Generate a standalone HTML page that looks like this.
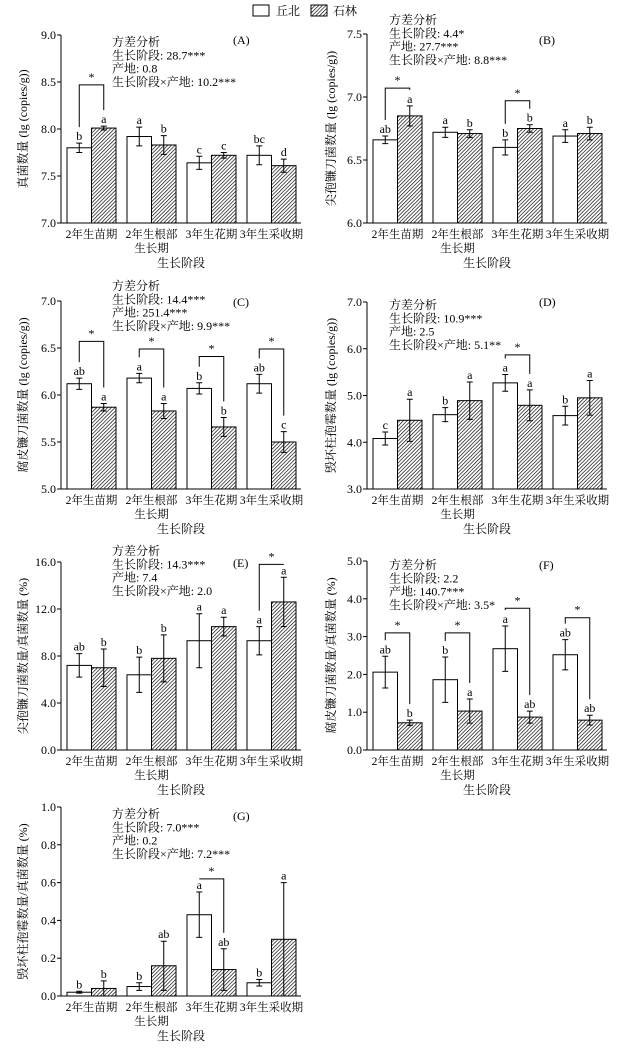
<!DOCTYPE html>
<html><head><meta charset="utf-8"><style>
html,body{margin:0;padding:0;background:#fff;}
svg{display:block;font-family:"Liberation Serif","Noto Serif CJK SC","Noto Sans CJK SC",serif;}
</style></head><body>
<svg id="fig" width="644" height="1050" xmlns="http://www.w3.org/2000/svg">
<defs>
<pattern id="hatch" patternUnits="userSpaceOnUse" width="2.6" height="2.6" patternTransform="rotate(45)">
<rect width="2.6" height="2.6" fill="#fff"/><line x1="0" y1="0" x2="0" y2="2.6" stroke="#111" stroke-width="1.4"/>
</pattern>
</defs>
<g>
<rect x="253" y="5" width="16" height="11" fill="#fff" stroke="#000"/>
<text x="276" y="15" font-size="12">丘北</text>
<rect x="311" y="5" width="16" height="11" fill="url(#hatch)" stroke="#000"/>
<text x="333" y="15" font-size="12">石林</text>
</g>
</svg>
<script>
const categories = ["2年生苗期","2年生根部|生长期","3年生花期","3年生采收期"];
// Panel A
const aWhite=[7.80,7.92,7.64,7.72], aWhiteErr=[0.05,0.10,0.07,0.10];
const aHatch=[8.01,7.83,7.72,7.61], aHatchErr=[0.02,0.10,0.03,0.07];
const aWL=["b","a","c","bc"], aHL=["a","b","c","d"];
const aTicks=["7.0","7.5","8.0","8.5","9.0"];
const aSig=[8.47,null,null,null];
const aAnova=["方差分析","生长阶段: 28.7***","产地: 0.8","生长阶段×产地: 10.2***"];
// Panel B
const bWhite=[6.66,6.72,6.60,6.69], bWhiteErr=[0.03,0.04,0.06,0.05];
const bHatch=[6.85,6.71,6.75,6.71], bHatchErr=[0.08,0.03,0.03,0.05];
const bWL=["ab","a","b","a"], bHL=["a","b","b","b"];
const bTicks=["6.0","6.5","7.0","7.5"];
const bSig=[7.07,null,6.97,null];
const bAnova=["方差分析","生长阶段: 4.4*","产地: 27.7***","生长阶段×产地: 8.8***"];
// Panel C
const cWhite=[6.12,6.18,6.07,6.12], cWhiteErr=[0.06,0.05,0.06,0.10];
const cHatch=[5.87,5.83,5.66,5.50], cHatchErr=[0.04,0.08,0.10,0.11];
const cWL=["ab","a","b","ab"], cHL=["a","a","b","c"];
const cTicks=["5.0","5.5","6.0","6.5","7.0"];
const cSig=[6.57,6.49,6.41,6.49];
const cAnova=["方差分析","生长阶段: 14.4***","产地: 251.4***","生长阶段×产地: 9.9***"];
// Panel D
const dWhite=[4.08,4.59,5.27,4.57], dWhiteErr=[0.14,0.15,0.18,0.20];
const dHatch=[4.47,4.89,4.79,4.95], dHatchErr=[0.45,0.40,0.33,0.37];
const dWL=["c","b","a","b"], dHL=["a","a","a","a"];
const dTicks=["3.0","4.0","5.0","6.0","7.0"];
const dSig=[null,null,5.87,null];
const dAnova=["方差分析","生长阶段: 10.9***","产地: 2.5","生长阶段×产地: 5.1**"];
// Panel E
const eWhite=[7.2,6.4,9.3,9.3], eWhiteErr=[1.0,1.5,2.3,1.2];
const eHatch=[7.0,7.8,10.5,12.6], eHatchErr=[1.6,2.0,0.8,2.1];
const eWL=["ab","b","a","a"], eHL=["b","b","a","a"];
const eTicks=["0.0","4.0","8.0","12.0","16.0"];
const eSig=[null,null,null,15.8];
const eAnova=["方差分析","生长阶段: 14.3***","产地: 7.4","生长阶段×产地: 2.0"];
// Panel F
const fWhite=[2.06,1.86,2.68,2.52], fWhiteErr=[0.42,0.60,0.60,0.40];
const fHatch=[0.72,1.03,0.87,0.79], fHatchErr=[0.07,0.32,0.16,0.13];
const fWL=["ab","b","a","ab"], fHL=["b","a","ab","ab"];
const fTicks=["0.0","1.0","2.0","3.0","4.0","5.0"];
const fSig=[3.10,3.10,3.75,3.50];
const fAnova=["方差分析","生长阶段: 2.2","产地: 140.7***","生长阶段×产地: 3.5*"];
// Panel G
const gWhite=[0.02,0.05,0.43,0.07], gWhiteErr=[0.005,0.02,0.12,0.017];
const gHatch=[0.04,0.16,0.14,0.30], gHatchErr=[0.04,0.13,0.11,0.30];
const gWL=["b","b","a","b"], gHL=["b","ab","ab","a"];
const gTicks=["0.0","0.2","0.4","0.6","0.8","1.0"];
const gSig=[null,null,0.62,null];
const gAnova=["方差分析","生长阶段: 7.0***","产地: 0.2","生长阶段×产地: 7.2***"];

const svg=document.getElementById('fig');
const NS='http://www.w3.org/2000/svg';
function mk(tag,attrs,parent){const e=document.createElementNS(NS,tag);for(const k in attrs)e.setAttribute(k,attrs[k]);(parent||svg).appendChild(e);return e;}

function panel(cfg){
  const g=mk('g',{});
  
  
  const ax=cfg.ax, top=cfg.top, bot=cfg.bot, xend=ax+240;
  const tmin=parseFloat(cfg.ticks[0]), tmax=parseFloat(cfg.ticks[cfg.ticks.length-1]);
  const y=v=>bot-(v-tmin)/(tmax-tmin)*(bot-top);
  const bw=24.5;
  const gx=i=>ax+6+60*i;
  for(let i=0;i<4;i++){
    const pairs=[[cfg.w[i],cfg.we[i],cfg.wl[i],'#fff','white'],[cfg.h[i],cfg.he[i],cfg.hl[i],'url(#hatch)','hatched']];
    pairs.forEach((p,j)=>{
      const x=gx(i)+j*bw, v=p[0];
      const r=mk('rect',{x:x,y:y(v),width:bw,height:bot-y(v),fill:p[3],stroke:'#000','stroke-width':1},g);
      
      
      const cx=x+bw/2, yt=y(v+p[1]), yb=y(v-p[1]);
      const eb=mk('path',{d:`M${cx},${yt}V${yb}M${cx-3},${yt}H${cx+3}M${cx-3},${yb}H${cx+3}`,stroke:'#000','stroke-width':1,fill:'none'},g);
      
      
      const t=mk('text',{x:cx,y:yt-3,'font-size':12,'text-anchor':'middle'},g);t.textContent=p[2];
      
      
    });
    if(cfg.sig[i]!=null){
      const x1=gx(i)+bw/2, x2=gx(i)+bw*1.5, ys=y(cfg.sig[i]);
      const lw=y(cfg.w[i]+cfg.we[i])-16, lh=y(cfg.h[i]+cfg.he[i])-16;
      const br=mk('path',{d:`M${x1},${Math.max(lw,ys)}V${ys}H${x2}V${Math.max(lh,ys)}`,stroke:'#000','stroke-width':1,fill:'none'},g);
      
      
      const st=mk('text',{x:(x1+x2)/2,y:ys-4,'font-size':12,'text-anchor':'middle'},g);st.textContent='*';
      
      
    }
  }
  const axl=mk('path',{d:`M${ax},${top}V${bot}H${xend}`,stroke:'#000','stroke-width':1,fill:'none'},g);
  
  
  cfg.ticks.forEach(tl=>{
    const v=parseFloat(tl), yy=y(v);
    mk('line',{x1:ax-4,x2:ax,y1:yy,y2:yy,stroke:'#000'},g);
    const t=mk('text',{x:ax-5,y:yy+4,'font-size':12,'text-anchor':'end'},g);t.textContent=tl;
    
    
  });
  categories.forEach((c,i)=>{
    const cx=gx(i)+bw;
    c.split('|').forEach((line,k)=>{
      const t=mk('text',{x:cx,y:bot+15+k*14,'font-size':11.5,'text-anchor':'middle'},g);t.textContent=line;
      
      
    });
  });
  const xt=mk('text',{x:ax+120,y:bot+44,'font-size':12,'text-anchor':'middle'},g);xt.textContent='生长阶段';
  
  
  const yt=mk('text',{x:0,y:0,'font-size':12,'text-anchor':'middle',transform:`translate(${cfg.ytx},${(top+bot)/2}) rotate(-90)`},g);yt.textContent=cfg.ytitle;
  
  
  cfg.anova.forEach((a,k)=>{
    const t=mk('text',{x:cfg.anx,y:cfg.any+k*13.3,'font-size':12},g);t.textContent=a;
    
    
  });
  const pl=mk('text',{x:ax+172,y:cfg.ply,'font-size':12},g);pl.textContent='('+cfg.id+')';
  
  
}
panel({id:'A',ax:61,top:35,bot:223,ticks:aTicks,w:aWhite,we:aWhiteErr,h:aHatch,he:aHatchErr,wl:aWL,hl:aHL,sig:aSig,anova:aAnova,anx:112,any:46,ply:44,ytx:27,ytitle:'真菌数量 (lg (copies/g))'});
panel({id:'B',ax:367,top:34,bot:223,ticks:bTicks,w:bWhite,we:bWhiteErr,h:bHatch,he:bHatchErr,wl:bWL,hl:bHL,sig:bSig,anova:bAnova,anx:389,any:24,ply:44,ytx:335,ytitle:'尖孢镰刀菌数量 (lg (copies/g))'});
panel({id:'C',ax:61,top:301,bot:489,ticks:cTicks,w:cWhite,we:cWhiteErr,h:cHatch,he:cHatchErr,wl:cWL,hl:cHL,sig:cSig,anova:cAnova,anx:112,any:290,ply:306,ytx:27,ytitle:'腐皮镰刀菌数量 (lg (copies/g))'});
panel({id:'D',ax:367,top:302,bot:489,ticks:dTicks,w:dWhite,we:dWhiteErr,h:dHatch,he:dHatchErr,wl:dWL,hl:dHL,sig:dSig,anova:dAnova,anx:389,any:309,ply:306,ytx:335,ytitle:'毁坏柱孢霉数量 (lg (copies/g))'});
panel({id:'E',ax:61,top:562,bot:750,ticks:eTicks,w:eWhite,we:eWhiteErr,h:eHatch,he:eHatchErr,wl:eWL,hl:eHL,sig:eSig,anova:eAnova,anx:112,any:555,ply:567,ytx:27,ytitle:'尖孢镰刀菌数量/真菌数量 (%)'});
panel({id:'F',ax:367,top:561,bot:750,ticks:fTicks,w:fWhite,we:fWhiteErr,h:fHatch,he:fHatchErr,wl:fWL,hl:fHL,sig:fSig,anova:fAnova,anx:389,any:569,ply:569,ytx:335,ytitle:'腐皮镰刀菌数量/真菌数量 (%)'});
panel({id:'G',ax:61,top:807,bot:996,ticks:gTicks,w:gWhite,we:gWhiteErr,h:gHatch,he:gHatchErr,wl:gWL,hl:gHL,sig:gSig,anova:gAnova,anx:112,any:818,ply:820,ytx:27,ytitle:'毁坏柱孢霉数量/真菌数量 (%)'});
</script>
</body></html>
